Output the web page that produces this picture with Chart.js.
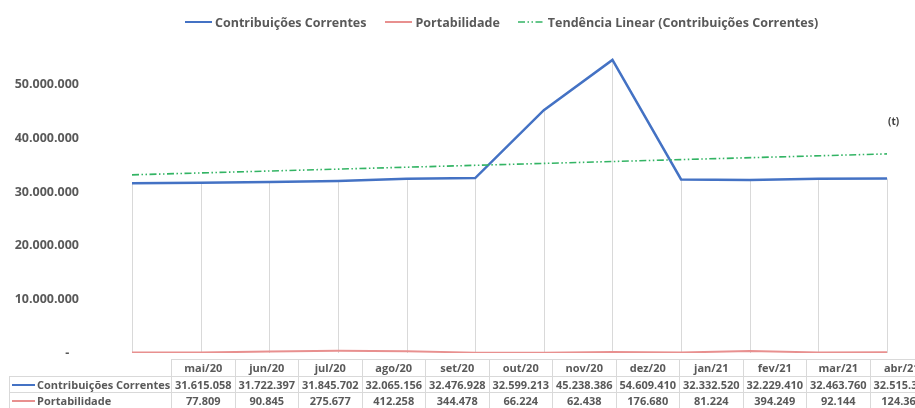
<!DOCTYPE html>
<html>
<head>
<meta charset="utf-8">
<script src="https://cdn.jsdelivr.net/npm/chart.js@4.4.1/dist/chart.umd.min.js"></script>
<style>
  html, body { margin: 0; padding: 0; background: #fff; overflow: hidden; }
  #wrap { position: relative; width: 915px; height: 408px; overflow: hidden; font-family: 'Open Sans', sans-serif; }
  #c { position: absolute; left: 0; top: 0; }
  #legend { position: absolute; top: 12px; left: 185px; display: flex; align-items: center; white-space: nowrap;
            font-weight: bold; font-size: 12.5px; color: #595959; height: 20px; }
  .li { display: flex; align-items: center; }
  .sw { display: inline-block; width: 27px; height: 0; margin-right: 3px; }
  #tbl { position: absolute; left: 9px; top: 359px; border-collapse: collapse; table-layout: fixed; width: 924px;
         font-weight: bold; font-size: 11px; color: #595959; }
  #tbl td { border: 1px solid #d9d9d9; padding: 0; height: 15.5px; line-height: 15px; text-align: center; white-space: nowrap; overflow: hidden; }
  #tbl td.lab { text-align: left; padding-left: 2px; }
  #tbl td.corner { border-top: none; border-left: none; }
  .tsw { display: inline-block; width: 23px; height: 0; vertical-align: middle; margin-right: 2px; position: relative; top: -1px; }
  #tmark { position: absolute; left: 888px; top: 114px; font-size: 10px; font-weight: bold; color: #404040; }
</style>
</head>
<body>
<div id="wrap">
  <canvas id="c" width="915" height="408"></canvas>
  <div id="legend"></div>
  <div id="tmark">(t)</div>
  <table id="tbl"></table>
</div>
<script>
// ---- data ----
const categories = ['mai/20','jun/20','jul/20','ago/20','set/20','out/20','nov/20','dez/20','jan/21','fev/21','mar/21','abr/21'];
const contribuicoes = [31615058, 31722397, 31845702, 32065156, 32476928, 32599213, 45238386, 54609410, 32332520, 32229410, 32463760, 32515311];
const portabilidade = [77809, 90845, 275677, 412258, 344478, 66224, 62438, 176680, 81224, 394249, 92144, 124369];
// trend line end points (linear)
const tendencia = [33200000, null, null, null, null, null, null, null, null, null, null, 37100000];
const yTicks = [0, 10000000, 20000000, 30000000, 40000000, 50000000];

const seriesNames = ['Contribuições Correntes', 'Portabilidade', 'Tendência Linear (Contribuições Correntes)'];
const colors = ['#4472C4', '#E8908F', '#33B464'];

function fmt(v) {
  return String(Math.round(v)).replace(/\B(?=(\d{3})+(?!\d))/g, '.');
}

// legend
const legend = document.getElementById('legend');
const gaps = [19, 18, 0];
seriesNames.forEach((n, i) => {
  const it = document.createElement('div');
  it.className = 'li';
  it.style.marginRight = gaps[i] + 'px';
  let sw;
  if (i === 2) {
    sw = '<svg width="27" height="4" style="margin-right:3px"><line x1="0" y1="2" x2="27" y2="2" stroke="' + colors[2] + '" stroke-width="1.6" stroke-dasharray="7,2.5,1.5,2.5,1.5,2.5"/></svg>';
  } else {
    sw = '<span class="sw" style="border-top:2px solid ' + colors[i] + '"></span>';
  }
  it.innerHTML = sw + '<span>' + n + '</span>';
  legend.appendChild(it);
});

// data table
const tbl = document.getElementById('tbl');
let html = '<colgroup><col style="width:162px">' + categories.map(() => '<col style="width:63.5px">').join('') + '</colgroup>';
html += '<tr><td class="corner"></td>' + categories.map(c => '<td>' + c + '</td>').join('') + '</tr>';
html += '<tr><td class="lab"><span class="tsw" style="border-top:2px solid ' + colors[0] + '"></span>' + seriesNames[0] + '</td>' + contribuicoes.map(v => '<td>' + fmt(v) + '</td>').join('') + '</tr>';
html += '<tr><td class="lab"><span class="tsw" style="border-top:2px solid ' + colors[1] + '"></span>' + seriesNames[1] + '</td>' + portabilidade.map(v => '<td>' + fmt(v) + '</td>').join('') + '</tr>';
tbl.innerHTML = html;

// drop lines from the main series to the axis
const dropLines = {
  id: 'dropLines',
  beforeDatasetsDraw(chart) {
    const { ctx, scales: { x, y } } = chart;
    ctx.save();
    ctx.strokeStyle = '#d9d9d9';
    ctx.lineWidth = 1;
    contribuicoes.forEach((v, i) => {
      const px = Math.round(x.getPixelForValue(i)) + 0.5;
      ctx.beginPath();
      ctx.moveTo(px, y.getPixelForValue(v));
      ctx.lineTo(px, y.getPixelForValue(0));
      ctx.stroke();
    });
    ctx.restore();
  }
};

new Chart(document.getElementById('c'), {
  type: 'line',
  data: {
    labels: categories,
    datasets: [
      { label: seriesNames[0], data: contribuicoes, borderColor: colors[0], borderWidth: 2.5, pointRadius: 0, tension: 0, order: 2 },
      { label: seriesNames[1], data: portabilidade, borderColor: colors[1], borderWidth: 2, pointRadius: 0, tension: 0, order: 3 },
      { label: seriesNames[2], data: tendencia, borderColor: colors[2], borderWidth: 1.6, borderDash: [7, 2.5, 1.5, 2.5, 1.5, 2.5], pointRadius: 0, spanGaps: true, order: 1 }
    ]
  },
  options: {
    responsive: false,
    animation: false,
    layout: { padding: { left: 0, right: 28, top: 31, bottom: 55 } },
    plugins: { legend: { display: false }, tooltip: { enabled: false } },
    scales: {
      x: { display: false, offset: false },
      y: {
        position: 'left', weight: 0,
        min: 0, max: 60000000,
        afterFit(scale) { scale.width = 50; },
        grid: { display: false, drawTicks: false },
        border: { display: false },
        ticks: { display: false }
      },
      yLabels: {
        position: 'left', weight: 1,
        min: 0, max: 60000000,
        afterBuildTicks(scale) { scale.ticks = yTicks.map(v => ({ value: v })); },
        afterFit(scale) { scale.width = 82; },
        grid: { display: false, drawTicks: false },
        border: { display: false },
        ticks: {
          padding: 3,
          color: '#595959',
          font: { family: 'Open Sans', weight: 'bold', size: 12.5 },
          callback: v => v === 0 ? '-   ' : fmt(v)
        }
      }
    }
  },
  plugins: [dropLines]
});
</script>
</body>
</html>
